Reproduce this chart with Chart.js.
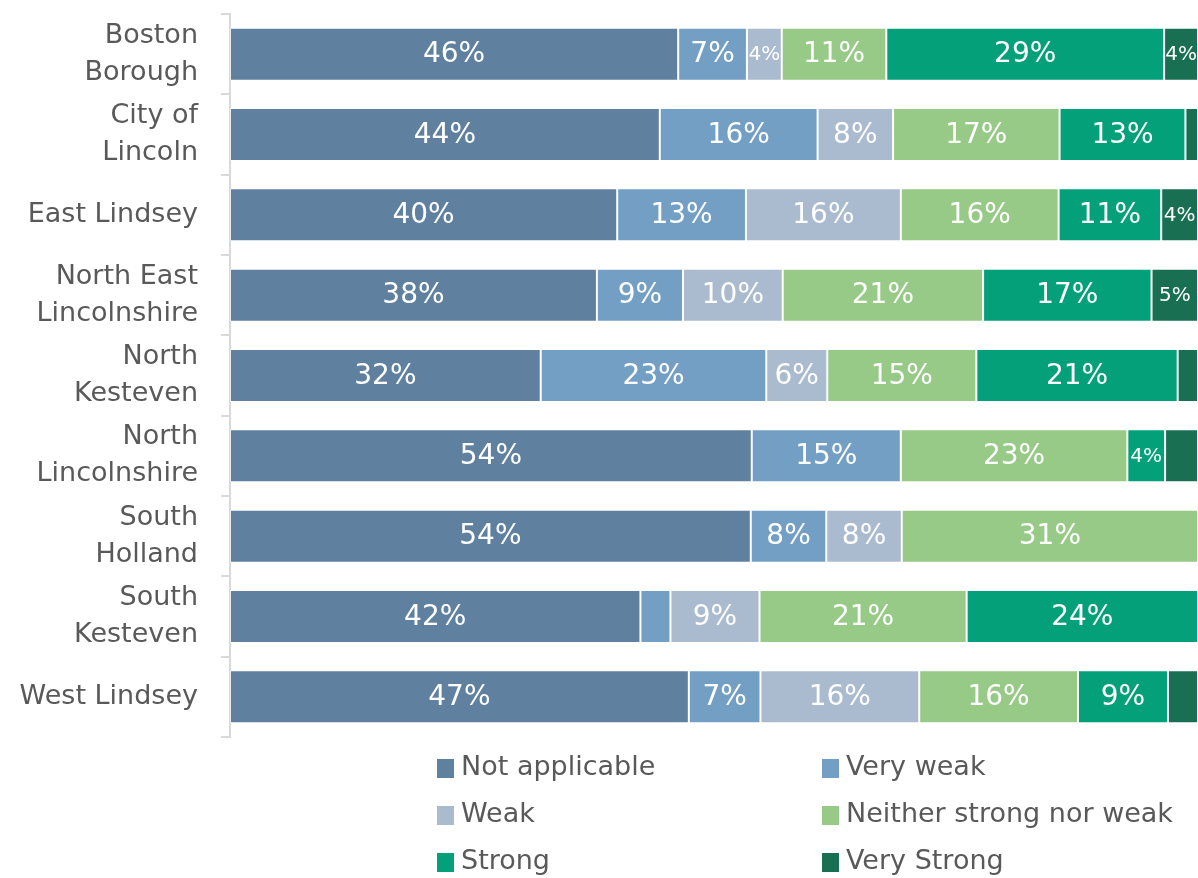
<!DOCTYPE html>
<html>
<head>
<meta charset="utf-8">
<title>Strength of local identity by district</title>
<script src="https://cdn.jsdelivr.net/npm/chart.js@4/dist/chart.umd.min.js"></script>
<style>
  html, body { margin: 0; padding: 0; background: #ffffff; }
  #wrap { width: 1198px; height: 878px; }
</style>
</head>
<body>
<div id="wrap"><canvas id="chart" width="1198" height="878"></canvas></div>
<script>
// Districts (multi-line labels as drawn on the axis)
const districts = [
  ['Boston', 'Borough'],
  ['City of', 'Lincoln'],
  'East Lindsey',
  ['North East', 'Lincolnshire'],
  ['North', 'Kesteven'],
  ['North', 'Lincolnshire'],
  ['South', 'Holland'],
  ['South', 'Kesteven'],
  'West Lindsey'
];

// Share of respondents (%) per response, one value per district
const notApplicable = [46.3, 44.4, 40.0, 37.9, 32.1, 53.9, 53.8, 42.4, 47.4];
const veryWeak      = [ 7.1, 16.3, 13.3,  8.9, 23.3, 15.4,  7.8,  3.1,  7.4];
const weak          = [ 3.6,  7.8, 16.0, 10.3,  6.3,  0.0,  7.8,  9.2, 16.4];
const neither       = [10.8, 17.2, 16.3, 20.7, 15.4, 23.4, 30.6, 21.4, 16.4];
const strong        = [28.7, 13.0, 10.6, 17.4, 20.8,  3.9,  0.0, 23.9,  9.3];
const veryStrong    = [ 3.5,  1.3,  3.8,  4.8,  2.1,  3.4,  0.0,  0.0,  3.1];

const seriesNames  = ['Not applicable', 'Very weak', 'Weak', 'Neither strong nor weak', 'Strong', 'Very Strong'];
const seriesValues = [notApplicable, veryWeak, weak, neither, strong, veryStrong];
const seriesColors = ['#5F809F', '#739FC5', '#AABBCF', '#97C987', '#03A07A', '#196F51'];

const FONT = '"DejaVu Sans", sans-serif';
const TEXT_GREY = '#595959';

// Percentage labels drawn in the middle of each segment
const segmentLabels = {
  id: 'segmentLabels',
  afterDatasetsDraw(chart) {
    const ctx = chart.ctx;
    ctx.save();
    ctx.fillStyle = '#ffffff';
    ctx.textAlign = 'center';
    ctx.textBaseline = 'middle';
    chart.data.datasets.forEach((ds, di) => {
      const meta = chart.getDatasetMeta(di);
      meta.data.forEach((bar, i) => {
        const v = ds.data[i];
        if (!v || v < 3.5) return;
        const p = bar.getProps(['x', 'base', 'y'], true);
        ctx.font = (v < 5 ? '20px ' : '28px ') + FONT;
        ctx.fillText(Math.round(v) + '%', (p.x + p.base) / 2, p.y + 1);
      });
    });
    ctx.restore();
  }
};

// Two-column legend under the plot
const gridLegend = {
  id: 'gridLegend',
  afterDraw(chart, args, opts) {
    const ctx = chart.ctx;
    ctx.save();
    ctx.font = '27px ' + FONT;
    ctx.textBaseline = 'middle';
    ctx.textAlign = 'left';
    chart.data.datasets.forEach((ds, i) => {
      const col = i % 2, row = Math.floor(i / 2);
      const x = opts.columns[col];
      const y = opts.top + row * opts.rowGap;
      ctx.fillStyle = ds.backgroundColor;
      ctx.fillRect(x, y - 9, 17, 19);
      ctx.fillStyle = TEXT_GREY;
      ctx.fillText(ds.label, x + 24, y);
    });
    ctx.restore();
  }
};

new Chart(document.getElementById('chart'), {
  type: 'bar',
  data: {
    labels: districts,
    datasets: seriesNames.map((name, i) => ({
      label: name,
      data: seriesValues[i],
      backgroundColor: seriesColors[i],
      borderColor: 'rgba(255,255,255,0.45)',
      borderWidth: 1,
      borderSkipped: false,
      categoryPercentage: 0.66,
      barPercentage: 1.0
    }))
  },
  options: {
    indexAxis: 'y',
    responsive: false,
    animation: false,
    layout: { padding: { top: 14, right: 0, bottom: 141, left: 0 } },
    scales: {
      x: {
        stacked: true,
        min: 0,
        max: 100,
        display: false
      },
      y: {
        stacked: true,
        afterFit(scale) {
          scale.width = 230;
          scale.paddingTop = 0;
          scale.paddingBottom = 0;
        },
        border: { display: true, color: '#D9D9D9', width: 2 },
        grid: {
          display: true,
          offset: true,
          drawOnChartArea: false,
          drawTicks: true,
          tickLength: 9,
          color: '#D9D9D9',
          lineWidth: 2
        },
        ticks: {
          color: TEXT_GREY,
          padding: 23,
          font: { family: FONT, size: 27, lineHeight: 1.37 }
        }
      }
    },
    plugins: {
      legend: { display: false },
      tooltip: { enabled: false },
      gridLegend: { columns: [437, 822], top: 768, rowGap: 47 }
    }
  },
  plugins: [segmentLabels, gridLegend]
});
</script>
</body>
</html>
